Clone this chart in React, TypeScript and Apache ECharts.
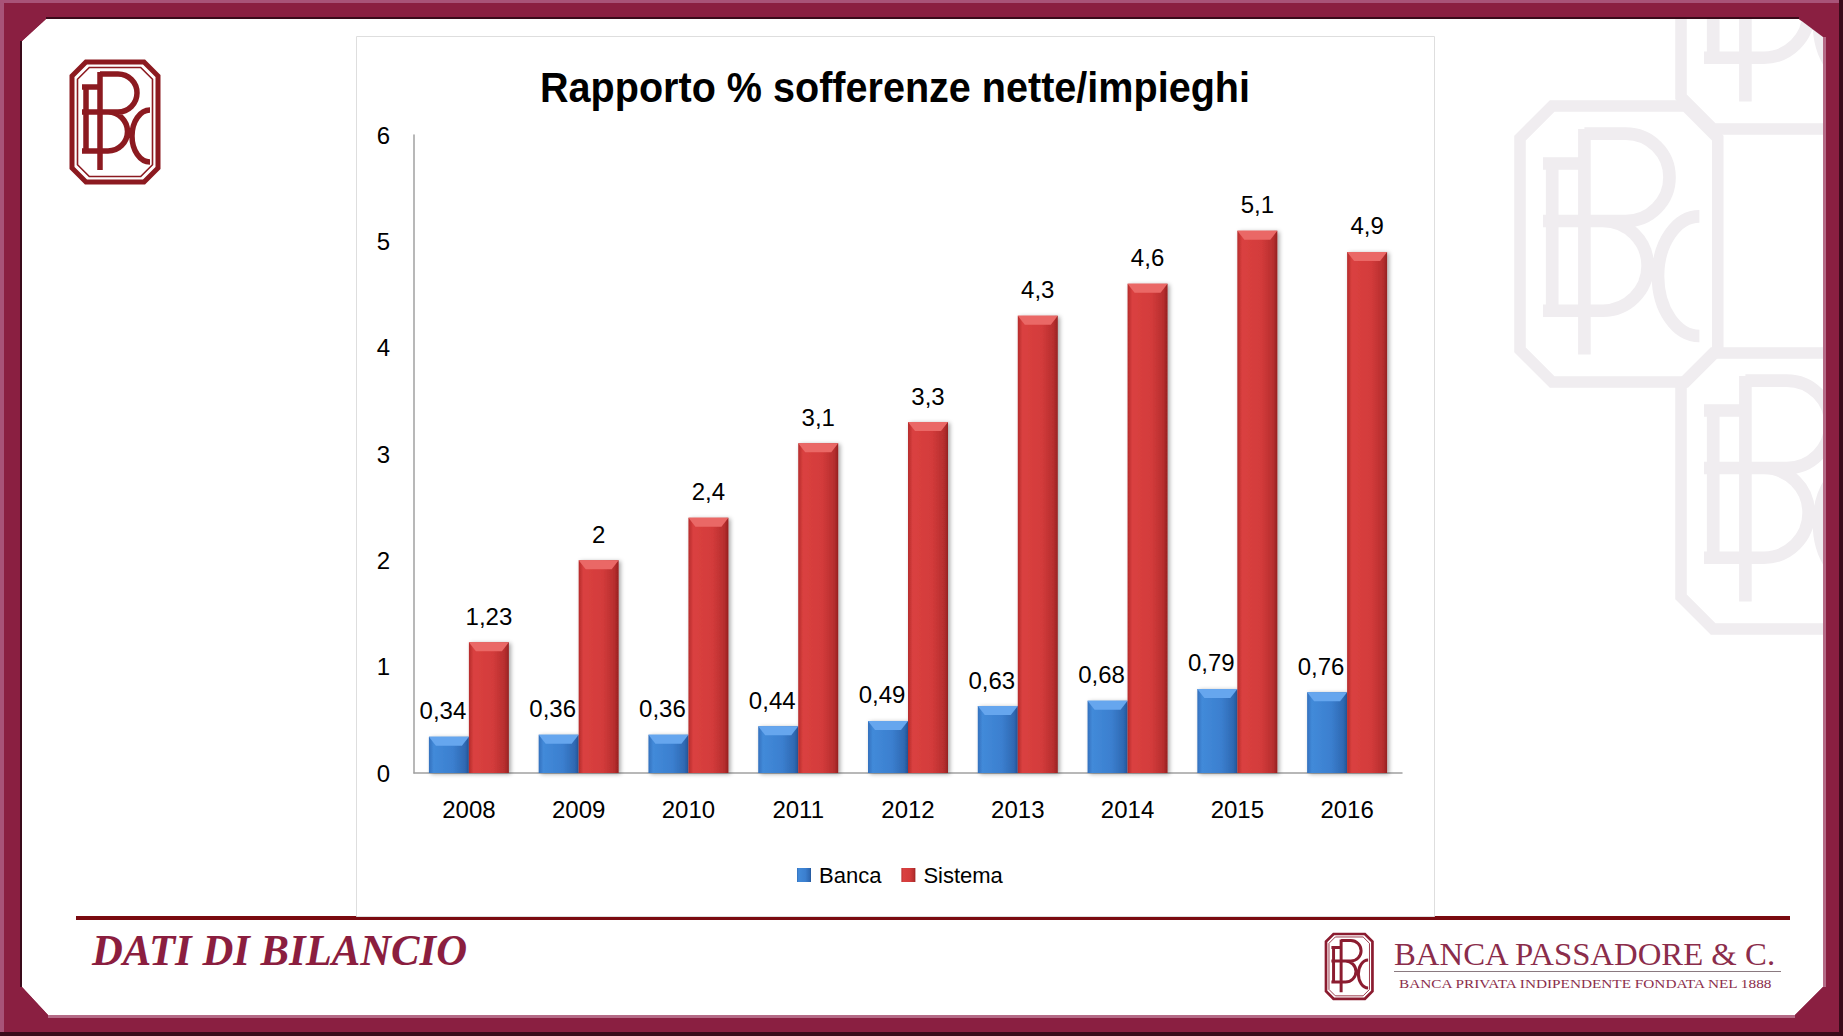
import React, { useEffect, useRef } from "react";
import * as echarts from "echarts";

const years = ["2008", "2009", "2010", "2011", "2012", "2013", "2014", "2015", "2016"];
const bancaValues = [0.34, 0.36, 0.36, 0.44, 0.49, 0.63, 0.68, 0.79, 0.76];
const sistemaValues = [1.23, 2, 2.4, 3.1, 3.3, 4.3, 4.6, 5.1, 4.9];
const seriesNames = ["Banca", "Sistema"];
const yAxisMin = 0;
const yAxisMax = 6;
const yAxisStep = 1;
const titleText = "Rapporto % sofferenze nette/impieghi";
const sectionText = "DATI DI BILANCIO";
const brandText = "BANCA PASSADORE & C.";
const taglineText = "BANCA PRIVATA INDIPENDENTE FONDATA NEL 1888";

const LOGO_LETTERS =
  "M28,10 L28,108 M28,12 L46,12 A19,19 0 0 1 46,50 L10,50 M28,50 L36,50 A19.5,19.5 0 0 1 36,89 L10,89 M14,23 L14,91 M10,25 L28,25 M78,48 A18,26 0 0 0 78,100";
echarts.graphic.registerShape("pbcLetters", echarts.graphic.extendPath(LOGO_LETTERS, {}));

const SANS = "'Liberation Sans', Arial, sans-serif";
const SERIF = "'Liberation Serif', 'Times New Roman', serif";
const FRAME = "#8a1f41";
const BAR_W = 40;

function measure(text: string, font: string): number {
  const c = document.createElement("canvas").getContext("2d");
  if (!c) return 0;
  c.font = font;
  return c.measureText(text).width;
}
function fitScale(text: string, font: string, target: number): number {
  const w = measure(text, font);
  return w > 0 ? target / w : 1;
}

function octPoints(i: number): number[][] {
  const W = 86, H = 120, c = 14 - i * 0.4;
  return [
    [i + c, i], [W - i - c, i], [W - i, i + c], [W - i, H - i - c],
    [W - i - c, H - i], [i + c, H - i], [i, H - i - c], [i, i + c],
  ];
}

function logo(x: number, y: number, s: number, color: string, double: boolean) {
  const children: any[] = [
    { type: "polygon", shape: { points: octPoints(0) }, style: { fill: "none", stroke: color, lineWidth: 5 } },
  ];
  if (double) {
    children.push({ type: "polygon", shape: { points: octPoints(5.5) }, style: { fill: "none", stroke: color, lineWidth: 1.6 } });
  }
  children.push({ type: "pbcLetters", style: { fill: "none", stroke: color, lineWidth: 5.5 } });
  return { type: "group", x, y, scaleX: s, scaleY: s, children };
}

function bevelSeries(values: number[], left: boolean, color: string) {
  return {
    type: "custom",
    z: 3,
    silent: true,
    encode: { x: 0, y: 1 },
    data: values.map((v, i) => [i, v]),
    renderItem: (params: any, api: any) => {
      const p = api.coord([api.value(0), api.value(1)]);
      const x0 = left ? p[0] - BAR_W : p[0];
      const y = p[1];
      return {
        type: "polygon",
        shape: { points: [[x0, y], [x0 + BAR_W, y], [x0 + BAR_W - 7, y + 9], [x0 + 7, y + 9]] },
        style: { fill: color },
      };
    },
  };
}

const fmt = (p: any) => String(p.value).replace(".", ",");

export default function App() {
  const ref = useRef<HTMLDivElement>(null);
  useEffect(() => {
    if (!ref.current) return;
    document.body.style.margin = "0";
    const chart = echarts.init(ref.current, undefined, { renderer: "svg" });

    const titleFont = `bold 42px 'Liberation Sans'`;
    const titleScale = fitScale(titleText, titleFont, 710);
    const sectionFont = `italic bold 44px 'Liberation Serif'`;
    const sectionScale = fitScale(sectionText, sectionFont, 375);
    const brandFont = `32px 'Liberation Serif'`;
    const brandScale = fitScale(brandText, brandFont, 383);
    const tagFont = `12px 'Liberation Serif'`;
    const tagScale = fitScale(taglineText, tagFont, 376);

    const graphics: any[] = [
      { type: "rect", shape: { x: 0, y: 0, width: 1843, height: 1036 }, style: { fill: FRAME } },
      {
        type: "polygon",
        shape: { points: [[22, 41], [46, 19], [1799, 19], [1823, 37], [1823, 987], [1795, 1015], [48, 1015], [22, 987]] },
        style: { fill: "#ffffff" },
      },
      logo(1520, 106, 2.3, "#f0edf0", false),
      logo(1681, -147, 2.3, "#f0edf0", false),
      logo(1681, 353, 2.3, "#f0edf0", false),
      { type: "rect", shape: { x: 0, y: 0, width: 1843, height: 19 }, style: { fill: FRAME } },
      { type: "rect", shape: { x: 1823, y: 0, width: 20, height: 1036 }, style: { fill: FRAME } },
      { type: "rect", shape: { x: 0, y: 1015, width: 1843, height: 21 }, style: { fill: FRAME } },
      { type: "rect", shape: { x: 0, y: 0, width: 22, height: 1036 }, style: { fill: FRAME } },
      { type: "polygon", shape: { points: [[22, 19], [46, 19], [22, 41]] }, style: { fill: FRAME } },
      { type: "polygon", shape: { points: [[1799, 19], [1823, 19], [1823, 37]] }, style: { fill: FRAME } },
      { type: "polygon", shape: { points: [[1823, 987], [1823, 1015], [1795, 1015]] }, style: { fill: FRAME } },
      { type: "polygon", shape: { points: [[22, 987], [22, 1015], [48, 1015]] }, style: { fill: FRAME } },
      { type: "rect", shape: { x: 46, y: 17, width: 1753, height: 2 }, style: { fill: "#3a0a1a" } },
      { type: "rect", shape: { x: 20, y: 41, width: 2, height: 946 }, style: { fill: "#3a0a1a" } },
      { type: "rect", shape: { x: 48, y: 1015, width: 1747, height: 3 }, style: { fill: "#b46a86" } },
      { type: "rect", shape: { x: 1823, y: 37, width: 3, height: 950 }, style: { fill: "#b46a86" } },
      { type: "rect", shape: { x: 0, y: 0, width: 4, height: 1036 }, style: { fill: "#a85378" } },
      { type: "rect", shape: { x: 0, y: 0, width: 1843, height: 3 }, style: { fill: "#a85378" } },
      { type: "rect", shape: { x: 0, y: 1032, width: 1843, height: 4 }, style: { fill: "#3a0a1a" } },
      { type: "rect", shape: { x: 1839, y: 0, width: 4, height: 1036 }, style: { fill: "#3a0a1a" } },
      { type: "rect", shape: { x: 76, y: 916, width: 1714, height: 4 }, style: { fill: "#7a0a10" } },
      {
        type: "rect",
        shape: { x: 356.5, y: 36.5, width: 1078, height: 880 },
        style: { fill: "#ffffff", stroke: "#dedede", lineWidth: 1 },
      },
      logo(72, 62, 1, "#8c1a20", true),
      logo(1326, 934, 0.54, "#8b1c30", true),
      {
        type: "text",
        x: 895,
        y: 88,
        scaleX: titleScale,
        style: {
          text: titleText, fontSize: 42, fontWeight: "bold", fontFamily: SANS,
          fill: "#000000", align: "center", verticalAlign: "middle",
        },
      },
      {
        type: "text",
        x: 92,
        y: 950,
        scaleX: sectionScale,
        style: {
          text: sectionText, fontSize: 44, fontWeight: "bold", fontStyle: "italic", fontFamily: SERIF,
          fill: "#8b1e3f", align: "left", verticalAlign: "middle",
        },
      },
      {
        type: "text",
        x: 1394,
        y: 954,
        scaleX: brandScale,
        style: {
          text: brandText, fontSize: 32, fontFamily: SERIF,
          fill: "#8b2d4b", align: "left", verticalAlign: "middle",
        },
      },
      { type: "line", shape: { x1: 1394, y1: 971.5, x2: 1781, y2: 971.5 }, style: { stroke: "#8a7a80", lineWidth: 1 } },
      {
        type: "text",
        x: 1399,
        y: 984,
        scaleX: tagScale,
        style: {
          text: taglineText, fontSize: 12, fontFamily: SERIF,
          fill: "#8b2d4b", align: "left", verticalAlign: "middle",
        },
      },
    ];

    const blue = new echarts.graphic.LinearGradient(0, 0, 1, 0, [
      { offset: 0, color: "#3370bd" },
      { offset: 0.12, color: "#428ad9" },
      { offset: 0.6, color: "#3b7fcf" },
      { offset: 0.9, color: "#2f69b3" },
      { offset: 1, color: "#24569a" },
    ]);
    const red = new echarts.graphic.LinearGradient(0, 0, 1, 0, [
      { offset: 0, color: "#b52b2b" },
      { offset: 0.12, color: "#da4140" },
      { offset: 0.6, color: "#d33b3b" },
      { offset: 0.9, color: "#b62e2e" },
      { offset: 1, color: "#952121" },
    ]);

    const labelBase = {
      show: true,
      position: "top",
      distance: 14,
      formatter: fmt,
      fontSize: 24,
      fontFamily: SANS,
      color: "#000000",
    };
    const shadow = {
      shadowColor: "rgba(0,0,0,0.35)",
      shadowBlur: 4,
      shadowOffsetX: 2,
      shadowOffsetY: 1,
    };

    chart.setOption({
      animation: false,
      backgroundColor: "#ffffff",
      graphic: { elements: graphics },
      grid: { left: 414, right: 441, top: 135, bottom: 263, containLabel: false },
      legend: {
        data: seriesNames,
        left: 797,
        top: 864,
        padding: 0,
        icon: "rect",
        itemWidth: 14,
        itemHeight: 14,
        itemGap: 20,
        textStyle: { fontSize: 22, fontFamily: SANS, color: "#000000", padding: [0, 0, 0, 3] },
      },
      xAxis: {
        type: "category",
        data: years,
        axisLine: { show: true, lineStyle: { color: "#a0a0a0", width: 1.5 } },
        axisTick: { show: false },
        axisLabel: { fontSize: 24, fontFamily: SANS, color: "#000000", margin: 24 },
        splitLine: { show: false },
      },
      yAxis: {
        type: "value",
        min: yAxisMin,
        max: yAxisMax,
        interval: yAxisStep,
        axisLine: { show: true, lineStyle: { color: "#a0a0a0", width: 1.5 } },
        axisTick: { show: false },
        axisLabel: { fontSize: 24, fontFamily: SANS, color: "#000000", margin: 24 },
        splitLine: { show: false },
      },
      series: [
        {
          name: seriesNames[0],
          type: "bar",
          data: bancaValues,
          barWidth: BAR_W,
          barGap: "0%",
          itemStyle: { color: blue, ...shadow },
          label: { ...labelBase, offset: [-6, 0] },
        },
        {
          name: seriesNames[1],
          type: "bar",
          data: sistemaValues,
          barWidth: BAR_W,
          barGap: "0%",
          itemStyle: { color: red, ...shadow },
          label: { ...labelBase },
        },
        bevelSeries(bancaValues, true, "#66a6ee"),
        bevelSeries(sistemaValues, false, "#ea6866"),
      ],
    });

    return () => chart.dispose();
  }, []);

  return (
    <div
      ref={ref}
      style={{ position: "fixed", left: 0, top: 0, width: 1843, height: 1036 }}
    />
  );
}
